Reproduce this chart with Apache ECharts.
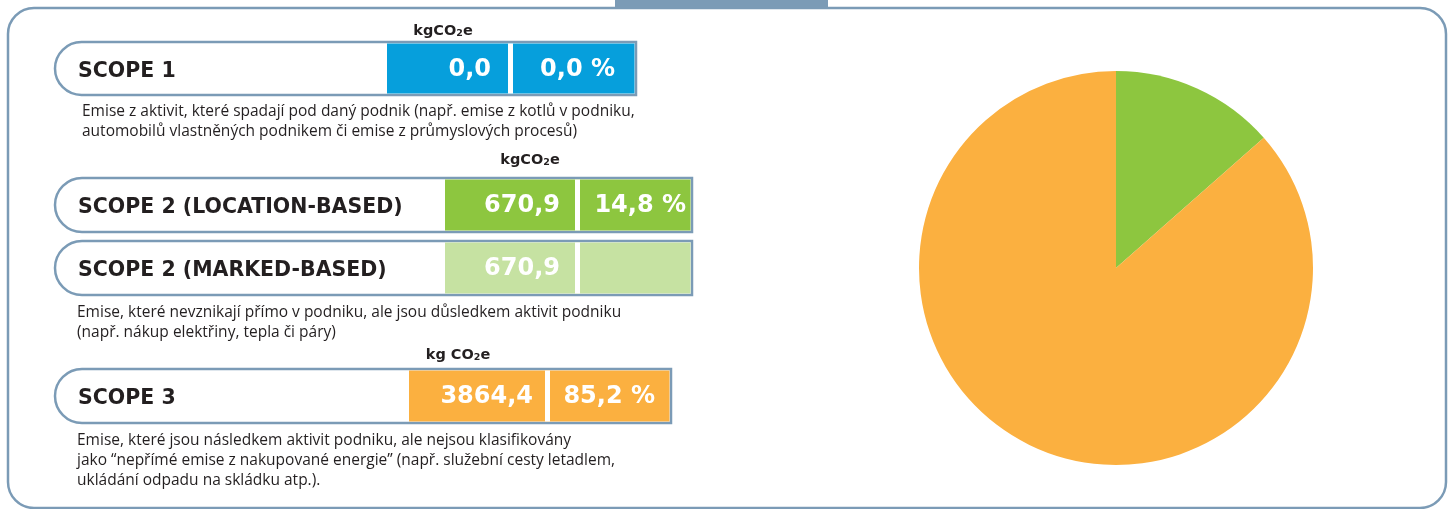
<!DOCTYPE html>
<html>
<head>
<meta charset="utf-8">
<script src="https://cdn.jsdelivr.net/npm/echarts@6/dist/echarts.min.js"></script>
<style>
  html, body { margin: 0; padding: 0; background: #fff; }
  #chart { width: 1453px; height: 509px; }
</style>
</head>
<body>
<div id="chart"></div>
<script>
// data
const scopes = ['SCOPE 1', 'SCOPE 2 (LOCATION-BASED)', 'SCOPE 2 (MARKED-BASED)', 'SCOPE 3'];
const emissions = [0.0, 670.9, 670.9, 3864.4];
const shares = [0.0, 14.8, null, 85.2];
const unitLabels = ['kgCO2e', 'kgCO2e', null, 'kg CO2e'];
const descriptions = [
  ['Emise z aktivit, které spadají pod daný podnik (např. emise z kotlů v podniku,',
   'automobilů vlastněných podnikem či emise z průmyslových procesů)'],
  ['Emise, které nevznikají přímo v podniku, ale jsou důsledkem aktivit podniku',
   '(např. nákup elektřiny, tepla či páry)'],
  ['Emise, které jsou následkem aktivit podniku, ale nejsou klasifikovány',
   'jako “nepřímé emise z nakupované energie” (např. služební cesty letadlem,',
   'ukládání odpadu na skládku atp.).']
];
// pie slices as drawn (share of angle), scope 1 / scope 2 / scope 3
const pieNames = ['SCOPE 1', 'SCOPE 2', 'SCOPE 3'];
const pieValues = [0, 13.5, 86.5];

// layout
const colors = ['#069fdc', '#8dc63f', '#c6e2a2', '#fbb040'];
const border = '#7b9bb6';
const rows = [
  { top: 42, h: 53, a: 387, b: 513, r: 636, vr: 491, sr: 615, unit: 443, unitY: 30 },
  { top: 178, h: 54, a: 445, b: 580, r: 692, vr: 560, sr: 686, unit: 530, unitY: 159 },
  { top: 241, h: 54, a: 445, b: 580, r: 692, vr: 560, sr: 686, unit: null },
  { top: 369, h: 54, a: 409, b: 550, r: 671, vr: 533, sr: 655, unit: 458, unitY: 354 }
];
const descPos = [{ x: 82, y: 102 }, { x: 77, y: 303 }, { x: 77, y: 431 }];
const LEFT = 55;
const DARK = '#231f20';

const fmt = v => v.toFixed(1).replace('.', ',');

const graphic = [];
// frame and tab
graphic.push({
  type: 'rect', shape: { x: 8, y: 8, width: 1438, height: 500, r: 26 },
  style: { fill: 'none', stroke: border, lineWidth: 2.5 }, z: 1
});
graphic.push({
  type: 'rect', shape: { x: 615, y: 0, width: 213, height: 8 },
  style: { fill: border }, z: 2
});

rows.forEach((row, i) => {
  const y = row.top, h = row.h;
  graphic.push({
    type: 'rect', shape: { x: LEFT, y: y, width: row.r - LEFT, height: h, r: [27, 0, 0, 27] },
    style: { fill: '#fff', stroke: border, lineWidth: 2.5 }, z: 3
  });
  graphic.push({
    type: 'rect', shape: { x: row.a, y: y + 1.5, width: row.r - row.a - 1.5, height: h - 3 },
    style: { fill: colors[i] }, z: 4
  });
  // separator between value and share
  graphic.push({
    type: 'rect', shape: { x: row.b - 5, y: y + 1.5, width: 5, height: h - 3 },
    style: { fill: '#fff' }, z: 5
  });
  graphic.push({
    type: 'text', x: 78, y: y + h / 2 + 3, z: 6,
    style: {
      text: scopes[i], fill: DARK, font: 'bold 20.5px "DejaVu Sans"',
      align: 'left', verticalAlign: 'middle'
    }
  });
  graphic.push({
    type: 'text', x: row.vr, y: y + h / 2 + 1, z: 6,
    style: {
      text: fmt(emissions[i]), fill: '#fff', font: 'bold 24px "DejaVu Sans"',
      align: 'right', verticalAlign: 'middle'
    }
  });
  if (shares[i] !== null) {
    graphic.push({
      type: 'text', x: row.sr, y: y + h / 2 + 1, z: 6,
      style: {
        text: fmt(shares[i]) + ' %', fill: '#fff', font: 'bold 24px "DejaVu Sans"',
        align: 'right', verticalAlign: 'middle'
      }
    });
  }
  if (unitLabels[i] !== null) {
    const parts = unitLabels[i].split('2');
    graphic.push({
      type: 'text', x: row.unit, y: row.unitY, z: 6,
      style: {
        text: '{a|' + parts[0] + '}{s|2}{a|' + parts[1] + '}',
        align: 'center', verticalAlign: 'middle',
        rich: {
          a: { font: 'bold 14.5px "DejaVu Sans"', fill: DARK, verticalAlign: 'bottom', lineHeight: 17 },
          s: { font: 'bold 9.5px "DejaVu Sans"', fill: DARK, verticalAlign: 'bottom', lineHeight: 15 }
        }
      }
    });
  }
});

descriptions.forEach((lines, i) => {
  graphic.push({
    type: 'text', x: descPos[i].x, y: descPos[i].y, z: 6,
    style: {
      text: lines.join('\n'), fill: DARK, font: '15.5px "Liberation Sans Narrow", "Open Sans"',
      lineHeight: 20, align: 'left', verticalAlign: 'top'
    }
  });
});

const chart = echarts.init(document.getElementById('chart'));
chart.setOption({
  animation: false,
  color: [colors[0], colors[1], colors[3]],
  graphic: graphic,
  series: [{
    type: 'pie',
    center: [1116, 268],
    radius: 197,
    startAngle: 90,
    clockwise: true,
    label: { show: false },
    labelLine: { show: false },
    itemStyle: { borderWidth: 0 },
    emphasis: { disabled: true },
    data: pieNames.map((n, i) => ({ name: n, value: pieValues[i] }))
  }]
});
</script>
</body>
</html>
